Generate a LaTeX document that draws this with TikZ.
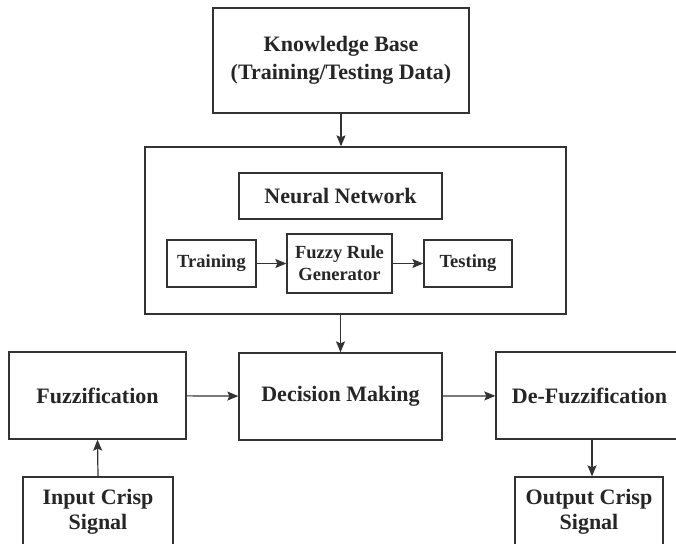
\documentclass[tikz,border=0pt]{standalone}
\usepackage{fontspec}
\setmainfont{Liberation Serif}
\usetikzlibrary{arrows.meta}
\tikzset{
  box/.style={draw=black!80, line width=1.3pt, rectangle, inner sep=0pt, align=center,
              font=\fontsize{22}{28}\selectfont\bfseries, text=black!85},
  sbox/.style={box, font=\fontsize{18.5}{22}\selectfont\bfseries},
  arr/.style={draw=black!80, line width=1.2pt, -{Stealth[length=11pt,width=9pt,inset=2pt]}},
}
\begin{document}
\begin{tikzpicture}[x=1pt,y=-1pt]
\clip (0,0) rectangle (676,543);
\fill[white] (0,0) rectangle (676,543);
\node[box, minimum width=256pt, minimum height=105pt] (kb) at (341,60.5) {Knowledge Base\\(Training/Testing Data)};
\node[box, minimum width=421pt, minimum height=167pt] (outer) at (355.5,230.5) {};
\node[box, minimum width=203pt, minimum height=46pt] (nn) at (340.5,196) {Neural Network};
\node[sbox, minimum width=89pt, minimum height=47pt] (train) at (211.5,263.5) {Training};
\node[sbox, minimum width=105pt, minimum height=59pt] (frg) at (339.5,263.5) {Fuzzy Rule\\Generator};
\node[sbox, minimum width=88pt, minimum height=47pt] (test) at (468,263.5) {Testing};
\node[box, minimum width=177pt, minimum height=87pt] (fuzz) at (97.5,395.5) {Fuzzification};
\node[box, minimum width=203pt, minimum height=87pt] (dm) at (340.5,396.5) {\raisebox{-3pt}{Decision Making}};
\node[box, minimum width=192pt, minimum height=87pt] (defuzz) at (592,395.5) {\hspace*{-5pt}De-Fuzzification};
\node[box, minimum width=150pt, minimum height=70pt, font=\fontsize{22}{25}\selectfont\bfseries] (input) at (98,512) {Input Crisp\\Signal};
\node[box, minimum width=148pt, minimum height=70pt, font=\fontsize{22}{25}\selectfont\bfseries] (output) at (589,512) {Output Crisp\\Signal};
\draw[arr] (kb.south) -- (kb.south |- outer.north);
\draw[arr] (dm.north |- outer.south) -- (dm.north);
\draw[arr] (train) -- (frg);
\draw[arr] (frg) -- (test);
\draw[arr] (fuzz) -- (dm);
\draw[arr] (dm) -- (defuzz);
\draw[arr] (input.north) -- (fuzz.south);
\draw[arr] (defuzz.south) -- (defuzz.south |- output.north);
\end{tikzpicture}
\end{document}
